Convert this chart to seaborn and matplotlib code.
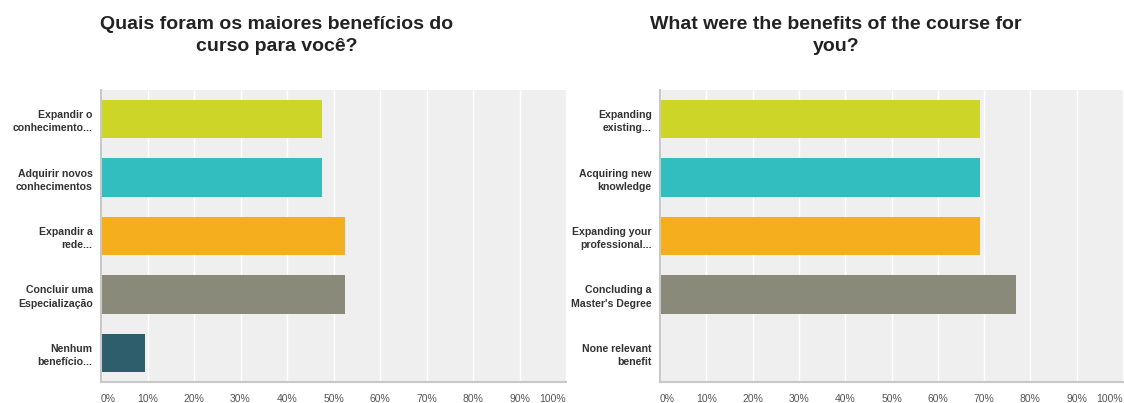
import matplotlib
matplotlib.use("Agg")
import matplotlib.pyplot as plt
import seaborn as sns
import pandas as pd

sns.set_theme(style="white")
plt.rcParams['font.family'] = ['Liberation Sans', 'DejaVu Sans']

title_pt = "Quais foram os maiores benefícios do\ncurso para você?"
title_en = "What were the benefits of the course for\nyou?"
cats_pt = ["Expandir o\nconhecimento...", "Adquirir novos\nconhecimentos", "Expandir a\nrede...",
           "Concluir uma\nEspecialização", "Nenhum\nbenefício..."]
cats_en = ["Expanding\nexisting...", "Acquiring new\nknowledge", "Expanding your\nprofessional...",
           "Concluding a\nMaster's Degree", "None relevant\nbenefit"]
vals_pt = [47.6, 47.6, 52.4, 52.4, 9.5]
vals_en = [69.2, 69.2, 69.2, 76.9, 0.0]
colors = ["#CDD628", "#32BDBF", "#F5AF1E", "#8A8A7A", "#2E5E6B"]
xticks = [0, 10, 20, 30, 40, 50, 60, 70, 80, 90, 100]
xticklabels = ["0%", "10%", "20%", "30%", "40%", "50%", "60%", "70%", "80%", "90%", "100%"]

fig = plt.figure(figsize=(11.24, 4.03), dpi=100)
H = 403.0
W = 1124.0
ax1 = fig.add_axes([101 / W, 1 - 382 / H, 465 / W, 292 / H])
ax2 = fig.add_axes([660 / W, 1 - 382 / H, 463 / W, 292 / H])

for ax, cats, vals, title, tx in [(ax1, cats_pt, vals_pt, title_pt, 277 / W),
                                  (ax2, cats_en, vals_en, title_en, 836 / W)]:
    df = pd.DataFrame({"cat": cats, "val": vals})
    sns.barplot(data=df, x="val", y="cat", hue="cat", palette=colors, orient="h",
                width=0.66, legend=False, ax=ax, saturation=1, linewidth=0)
    ax.set_facecolor("#EFEFEF")
    ax.set_xlim(0, 100)
    ax.set_ylim(4.5, -0.5)
    ax.set_xticks(xticks)
    ax.set_xticklabels(xticklabels)
    ax.set_yticks(range(len(cats)))
    ax.set_yticklabels(cats, fontweight="bold", linespacing=1.4, ha="right",
                       multialignment="right")
    ax.grid(axis="x", color="white", linewidth=1)
    ax.set_axisbelow(True)
    for s in ["top", "right"]:
        ax.spines[s].set_visible(False)
    for s in ["left", "bottom"]:
        ax.spines[s].set_color("#C8C8C8")
        ax.spines[s].set_linewidth(1.5)
    ax.set_xlabel("")
    ax.set_ylabel("")
    ax.tick_params(axis="x", length=0, labelsize=7.5, labelcolor="#555555", pad=9)
    ax.tick_params(axis="y", length=0, labelsize=7.6, labelcolor="#333333", pad=6)
    xl = ax.get_xticklabels()
    xl[0].set_horizontalalignment("left")
    xl[-1].set_horizontalalignment("right")
    fig.text(tx, 1 - 16 / H, title, ha="center", va="top", fontsize=14,
             fontweight="bold", color="#222222", linespacing=1.35)

fig.savefig("out.png", dpi=100)
